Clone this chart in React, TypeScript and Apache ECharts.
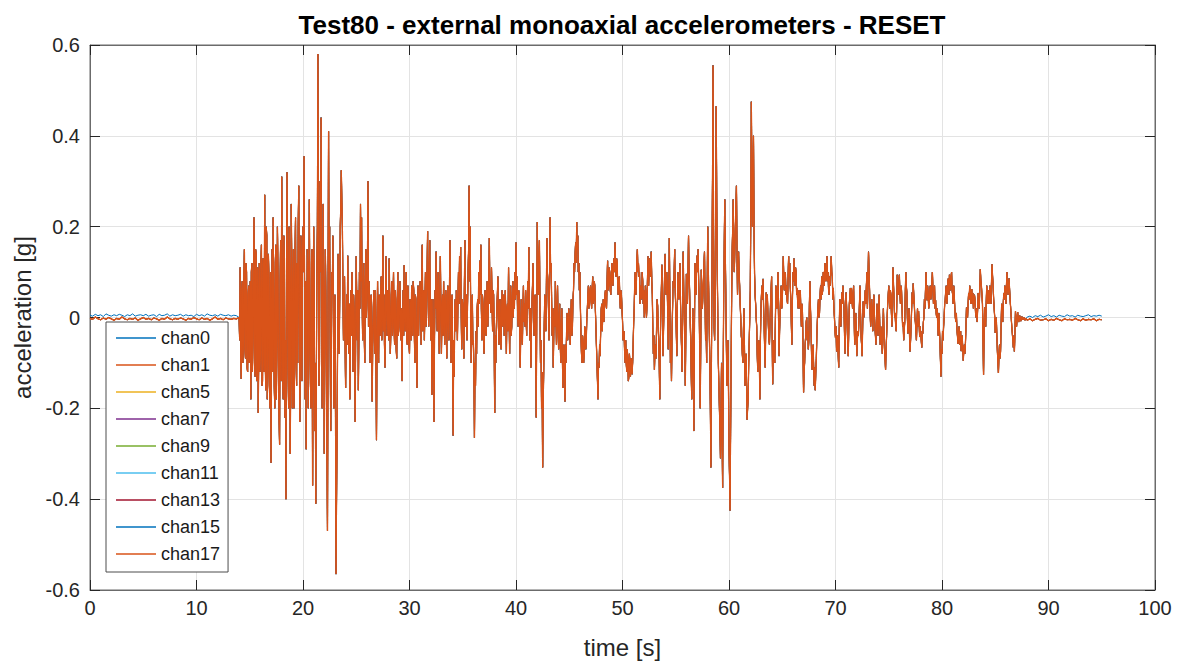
import React, { useEffect, useRef } from "react";
import * as echarts from "echarts";

// ---------- data ----------
const channelNames = ["chan0", "chan1", "chan5", "chan7", "chan9", "chan11", "chan13", "chan15", "chan17"];
const channelColors = ["#0072BD", "#D95319", "#EDB120", "#7E2F8E", "#77AC30", "#4DBEEE", "#A2142F", "#0072BD", "#D95319"];
// drawing order (later = on top): blue chan0 first, the covered channels, then the two orange ones
const drawOrder = [0, 2, 3, 4, 5, 6, 7, 1, 8];

const xTicks = { min: 0, max: 100, interval: 10 };
const yTicks = { min: -0.6, max: 0.6, interval: 0.2 };

// quiet part before the excitation (0 .. 13.75 s, every 0.25 s)
const quietStartOrange = [
  -0.002, -0.004, 0.001, -0.003, -0.005, -0.001, -0.004, 0.0,
  -0.003, -0.006, -0.002, -0.004, 0.001, -0.003, -0.005, -0.002,
  -0.004, -0.001, -0.006, -0.003, 0.0, -0.004, -0.002, -0.005,
  -0.001, -0.003, -0.006, -0.002, -0.004, 0.001, -0.003, -0.005,
  -0.002, -0.004, -0.001, -0.003, -0.006, -0.002, -0.004, 0.0,
  -0.003, -0.005, -0.001, -0.004, -0.002, -0.006, -0.003, 0.001,
  -0.004, -0.002, -0.005, -0.001, -0.003, -0.004, -0.002, -0.003,
];
const quietStartBlue = [
  0.005, 0.003, 0.007, 0.004, 0.006, 0.002, 0.008, 0.005,
  0.003, 0.006, 0.004, 0.007, 0.005, 0.002, 0.006, 0.004,
  0.008, 0.003, 0.005, 0.006, 0.004, 0.007, 0.003, 0.005,
  0.006, 0.002, 0.007, 0.004, 0.005, 0.008, 0.003, 0.006,
  0.004, 0.005, 0.007, 0.003, 0.006, 0.004, 0.005, 0.002,
  0.007, 0.004, 0.006, 0.003, 0.008, 0.005, 0.004, 0.006,
  0.003, 0.007, 0.005, 0.004, 0.006, 0.003, 0.005, 0.004,
];

// strong burst, one row per second starting at 14 s (samples spread evenly within each second)
const burstStart = 14;
const burstRows = [
  [0.0, -0.05, 0.11, -0.08, -0.135, 0.06, 0.08, -0.1, -0.06, 0.09, 0.15, -0.07, -0.09, 0.12, 0.1, -0.11, -0.12, 0.05, 0.07, -0.1],
  [-0.1, 0.08, -0.18, 0.1, 0.12, -0.12, -0.05, 0.09, 0.22, -0.1, -0.13, 0.15, 0.14, -0.14, -0.1, 0.11, -0.21, -0.06, 0.12, -0.12],
  [-0.08, 0.12, 0.16, -0.15, -0.14, 0.13, 0.1, -0.12, 0.27, -0.08, -0.16, 0.2, 0.18, -0.18, -0.12, 0.14, 0.09, -0.15, -0.2, 0.1],
  [-0.32, -0.05, 0.15, -0.12, 0.22, 0.05, -0.15, -0.2, 0.12, 0.16, -0.18, -0.06, 0.2, 0.1, -0.1, -0.22, -0.28, 0.08, 0.17, -0.14],
  [0.31, 0.1, -0.15, -0.18, 0.18, 0.12, -0.22, -0.05, -0.4, 0.1, 0.32, 0.15, -0.12, -0.2, 0.2, 0.08, -0.3, -0.12, 0.25, 0.1],
  [-0.2, -0.08, 0.15, -0.2, -0.12, 0.14, 0.22, -0.1, -0.15, 0.12, -0.1, 0.2, 0.29, 0.05, -0.23, -0.1, 0.18, 0.1, -0.14, 0.12],
  [0.2, 0.1, 0.355, 0.05, -0.18, 0.08, -0.29, -0.05, 0.15, 0.1, -0.2, 0.05, 0.26, -0.05, -0.15, -0.2, 0.12, 0.15, -0.37, -0.1],
  [0.2, 0.05, -0.25, -0.1, -0.41, -0.15, 0.1, 0.2, 0.58, 0.1, -0.15, -0.1, 0.3, 0.1, 0.44, 0.05, -0.2, -0.05, 0.25, 0.0],
  [-0.3, -0.05, 0.15, 0.05, -0.1, -0.3, -0.47, 0.0, 0.41, 0.1, 0.2, -0.05, -0.25, -0.1, 0.1, 0.05, 0.18, 0.02, -0.2, -0.1],
  [0.05, -0.2, -0.565, -0.4, -0.25, -0.05, 0.14, 0.05, -0.08, 0.05, 0.2, 0.25, 0.324, 0.25, 0.2, 0.05, -0.05, 0.02, 0.09, -0.05],
];

// middle part, starting at 24 s
const midStart = 24;
const midRows = [
  [-0.155, -0.04, 0.05, -0.06, 0.136, 0.02, -0.08, 0.03, -0.18, -0.05, 0.06, -0.04, 0.1, 0.04, -0.12, 0.05, 0.02, -0.08, -0.23, -0.02],
  [0.135, 0.03, -0.05, 0.06, -0.16, -0.03, 0.1, 0.02, 0.25, 0.08, 0.22, 0.05, -0.05, 0.04, 0.12, -0.04, -0.1, 0.06, 0.15, 0.0],
  [0.04, 0.12, 0.3, -0.02, 0.08, 0.03, -0.1, 0.04, 0.05, -0.06, -0.185, -0.04, 0.02, 0.06, -0.05, -0.08, 0.06, -0.1, -0.27, -0.05],
  [0.08, -0.02, -0.1, 0.05, 0.03, -0.04, 0.06, 0.09, -0.05, 0.04, 0.18, -0.03, 0.05, -0.06, -0.11, 0.05, 0.135, 0.02, -0.04, 0.06],
  [0.03, -0.05, 0.13, 0.02, -0.08, -0.03, 0.05, 0.08, -0.04, 0.03, 0.1, -0.02, -0.06, 0.06, 0.04, -0.07, -0.09, 0.03, 0.1, -0.04],
  [-0.02, 0.05, 0.08, -0.03, -0.05, 0.02, -0.14, -0.02, 0.06, -0.04, 0.115, 0.03, -0.03, 0.06, 0.1, -0.05, -0.06, 0.07, 0.03, -0.06],
  [-0.08, 0.04, 0.02, -0.05, 0.07, 0.01, -0.04, 0.08, 0.06, -0.03, -0.1, 0.05, 0.04, -0.06, -0.155, -0.02, 0.07, -0.04, 0.02, 0.06],
  [0.08, 0.01, -0.06, 0.07, 0.16, -0.03, 0.02, 0.06, -0.05, 0.03, 0.1, -0.02, 0.05, 0.1, 0.19, 0.04, -0.02, 0.08, 0.17, 0.02],
  [-0.05, 0.04, -0.17, -0.05, 0.04, -0.08, -0.23, -0.04, 0.06, 0.02, 0.145, 0.05, -0.03, 0.05, 0.1, -0.02, -0.08, 0.06, 0.135, 0.01],
  [-0.08, 0.02, 0.05, -0.04, 0.08, 0.02, -0.06, 0.04, 0.06, -0.03, -0.09, 0.05, 0.07, -0.02, -0.05, 0.06, 0.17, 0.03, -0.1, 0.03],
  [0.05, -0.08, -0.26, -0.05, -0.13, 0.02, 0.04, -0.03, 0.06, 0.02, -0.05, 0.04, 0.1, 0.03, 0.135, 0.05, 0.155, 0.02, -0.07, 0.04],
  [0.03, -0.03, -0.09, 0.06, 0.17, -0.02, 0.02, 0.05, -0.05, 0.03, 0.1, 0.15, 0.29, 0.08, 0.2, -0.02, -0.1, -0.03, 0.05, -0.06],
  [-0.05, -0.12, -0.265, -0.1, -0.15, -0.03, -0.08, 0.02, 0.04, -0.02, 0.1, 0.03, 0.125, 0.05, 0.16, 0.02, -0.05, 0.05, 0.03, -0.04],
  [-0.08, 0.01, 0.06, -0.03, -0.04, 0.05, 0.08, -0.02, 0.02, 0.09, 0.175, 0.03, 0.06, 0.01, 0.11, 0.04, -0.03, 0.06, 0.05, -0.05],
  [-0.21, -0.04, -0.1, -0.03, 0.02, 0.05, 0.09, -0.02, -0.06, 0.03, 0.04, -0.04, -0.07, 0.02, 0.06, -0.02, 0.03, 0.05, -0.04, 0.02],
  [0.06, -0.01, -0.08, 0.02, 0.03, -0.03, 0.11, 0.02, -0.08, 0.01, 0.07, -0.04, -0.02, 0.04, 0.08, 0.0, 0.065, 0.02, 0.1, 0.04],
  [0.165, 0.05, 0.09, 0.01, -0.02, 0.06, 0.05, -0.04, -0.11, -0.02, 0.04, -0.03, -0.06, 0.02, 0.07, -0.01, 0.03, -0.02, 0.06, 0.0],
  [-0.04, 0.03, 0.08, 0.02, 0.155, 0.03, -0.05, 0.02, -0.11, -0.02, 0.03, 0.07, 0.12, 0.02, -0.04, 0.03, 0.05, -0.06, -0.22, 0.02],
  [0.21, 0.08, 0.05, 0.12, 0.17, 0.02, -0.1, -0.05, -0.2, -0.12, -0.33, -0.2, -0.12, -0.02, 0.05, 0.0, -0.03, 0.06, 0.175, 0.1],
  [0.08, 0.02, -0.05, 0.08, 0.22, 0.1, 0.12, 0.03, -0.04, 0.02, -0.11, -0.03, 0.02, -0.02, 0.08, 0.0, -0.06, 0.01, 0.07, -0.02],
  [-0.07, -0.01, 0.03, -0.05, -0.1, -0.03, 0.02, -0.08, -0.155, -0.08, -0.06, -0.12, -0.185, -0.06, -0.1, -0.03, 0.01, -0.05, -0.03, 0.02],
  [0.02, -0.03, -0.06, 0.01, 0.04, -0.04, -0.02, 0.04, 0.06, 0.12, 0.1, 0.14, 0.165, 0.12, 0.21, 0.15, 0.18, 0.1, 0.12, 0.06],
  [0.1, 0.02, -0.04, -0.08, -0.1, -0.04, -0.06, -0.1, -0.08, -0.02, -0.03, -0.07, -0.05, 0.0, 0.02, 0.05, 0.07, 0.02, 0.03, 0.06],
  [0.07, 0.04, 0.02, 0.06, 0.09, 0.03, 0.04, 0.08, 0.07, 0.02, -0.02, -0.06, -0.1, -0.14, -0.18, -0.1, -0.11, -0.06, -0.085, -0.03],
  [0.018, 0.03, -0.03, 0.01, 0.04, -0.01, 0.018, 0.05, 0.06, 0.03, 0.02, 0.08, 0.125, 0.06, 0.07, 0.11, 0.1, 0.06, 0.05, 0.09],
  [0.12, 0.08, 0.07, 0.11, 0.13, 0.1, 0.165, 0.11, 0.09, 0.13, 0.12, 0.07, 0.05, 0.08, 0.09, 0.04, 0.02, 0.06, 0.05, 0.02],
];

// late part, starting at 50 s
const tailStart = 50;
const tailRows = [
  [-0.006, -0.05, -0.04, -0.03, -0.08, -0.1, -0.05, -0.1, -0.12, -0.07, -0.09, -0.14, -0.13, -0.08, -0.1, -0.13, -0.09, -0.1, -0.125, -0.1],
  [-0.06, -0.01, 0.02, 0.08, 0.1, 0.05, 0.07, 0.13, 0.15, 0.1, 0.12, 0.09, 0.1, 0.03, 0.06, 0.07, 0.04, 0.1, 0.08, 0.03],
  [0.06, 0.0, 0.02, 0.07, 0.05, 0.0, 0.026, 0.09, 0.135, 0.07, 0.1, 0.13, 0.12, 0.09, 0.145, 0.08, 0.05, -0.03, -0.08, -0.04],
  [-0.115, -0.07, -0.06, -0.09, -0.02, 0.04, 0.026, -0.02, -0.05, -0.1, -0.18, -0.06, 0.02, 0.06, 0.116, 0.02, -0.085, -0.03, 0.03, 0.09],
  [0.14, 0.08, 0.05, 0.1, 0.07, 0.0, -0.07, 0.06, 0.175, 0.03, -0.1, -0.05, -0.14, -0.04, 0.02, 0.08, 0.065, 0.1, 0.15, 0.06],
  [0.02, -0.03, -0.085, 0.02, 0.1, 0.06, 0.04, 0.08, 0.12, 0.03, -0.03, -0.07, -0.12, 0.03, 0.145, 0.06, 0.01, -0.06, -0.15, -0.02],
  [0.096, 0.05, 0.03, 0.1, 0.18, 0.1, 0.06, 0.0, -0.05, -0.12, -0.18, -0.06, 0.02, -0.1, -0.25, -0.05, 0.12, 0.08, 0.05, 0.1],
  [0.136, 0.1, 0.15, 0.08, 0.03, -0.08, -0.2, -0.05, 0.105, 0.06, 0.02, 0.05, 0.08, 0.12, 0.145, 0.04, -0.05, -0.02, -0.1, 0.05],
  [0.2, 0.12, 0.05, -0.03, -0.1, -0.2, -0.33, -0.1, 0.1, 0.3, 0.555, 0.2, -0.02, -0.05, 0.05, 0.2, 0.465, 0.25, 0.1, 0.0],
  [-0.1, -0.15, -0.2, -0.25, -0.31, -0.2, -0.1, -0.25, -0.375, -0.15, 0.05, 0.15, 0.26, 0.15, 0.05, -0.05, -0.15, -0.1, -0.05, -0.15],
  [-0.29, -0.35, -0.425, -0.25, -0.1, 0.05, 0.15, 0.2, 0.26, 0.15, 0.1, 0.15, 0.2, 0.25, 0.29, 0.15, 0.05, 0.1, 0.145, 0.1],
  [0.07, 0.03, 0.0, -0.04, -0.05, -0.08, -0.1, -0.03, 0.02, -0.06, -0.15, -0.1, -0.08, -0.15, -0.225, -0.2, -0.18, -0.1, -0.05, 0.0],
  [0.06, 0.25, 0.475, 0.3, 0.2, 0.3, 0.4, 0.2, 0.096, 0.05, 0.03, 0.0, -0.02, -0.08, -0.12, -0.06, -0.05, -0.1, -0.18, -0.05],
  [0.02, 0.05, 0.07, 0.04, 0.085, 0.02, -0.02, -0.07, -0.11, -0.02, 0.055, 0.02, 0.05, 0.01, -0.02, -0.05, -0.06, -0.01, 0.03, 0.06],
  [0.09, -0.03, -0.147, -0.08, -0.05, -0.09, -0.1, -0.02, 0.07, 0.04, 0.02, 0.06, 0.1, 0.0, -0.085, -0.03, 0.01, 0.05, 0.07, 0.02],
  [0.03, 0.09, 0.135, 0.08, 0.06, 0.1, 0.096, 0.05, 0.07, 0.04, 0.03, 0.09, 0.135, 0.09, 0.12, 0.07, 0.04, -0.01, -0.06, 0.03],
  [0.1, 0.08, 0.13, 0.09, 0.07, 0.11, 0.1, 0.05, 0.065, 0.03, 0.02, 0.06, 0.05, 0.02, 0.06, 0.01, -0.02, 0.03, 0.01, -0.07],
  [-0.165, -0.12, -0.1, -0.06, -0.04, -0.01, 0.0, -0.05, -0.03, -0.07, -0.05, 0.03, 0.08, 0.02, -0.02, -0.08, -0.115, -0.07, -0.06, -0.11],
  [-0.15, -0.11, -0.16, -0.12, -0.09, -0.04, -0.005, 0.02, 0.04, 0.0, 0.01, 0.05, 0.07, 0.04, 0.09, 0.05, 0.06, 0.1, 0.097, 0.07],
  [0.12, 0.09, 0.08, 0.11, 0.135, 0.08, 0.1, 0.06, 0.05, 0.09, 0.07, 0.11, 0.135, 0.1, 0.09, 0.04, 0.065, 0.02, 0.0, -0.03],
  [-0.045, -0.02, -0.075, -0.05, -0.04, -0.08, -0.11, -0.03, 0.04, 0.01, -0.02, 0.03, 0.055, 0.03, 0.07, 0.04, 0.02, -0.04, -0.08, 0.0],
  [0.055, 0.02, -0.02, -0.06, -0.085, -0.02, 0.03, 0.05, 0.065, 0.03, 0.065, 0.04, 0.02, 0.05, 0.07, 0.0, -0.06, -0.02, 0.01, -0.04],
  [-0.085, -0.05, -0.03, -0.04, -0.005, 0.03, 0.07, 0.01, -0.04, -0.06, -0.085, -0.02, 0.035, 0.0, 0.01, 0.04, 0.06, 0.03, 0.07, 0.1],
  [0.02, 0.08, 0.145, 0.1, 0.06, 0.01, -0.02, 0.02, 0.04, 0.0, -0.03, 0.02, 0.05, 0.01, -0.02, -0.04, -0.06, -0.01, 0.03, -0.01],
  [-0.04, 0.01, 0.05, -0.01, -0.06, -0.02, -0.03, -0.06, -0.08, -0.02, 0.02, -0.03, -0.07, -0.09, -0.115, -0.07, -0.04, 0.0, 0.03, 0.05],
  [0.07, 0.04, 0.02, 0.06, 0.05, 0.01, -0.02, 0.05, 0.11, 0.07, 0.04, 0.0, 0.01, -0.02, -0.03, 0.03, 0.094, 0.06, 0.05, 0.08],
  [0.094, 0.05, 0.03, 0.07, 0.06, 0.02, -0.02, -0.01, -0.05, -0.03, -0.01, 0.05, 0.1, 0.07, 0.055, 0.0, -0.035, -0.01, 0.02, -0.04],
  [-0.075, -0.05, -0.02, 0.02, 0.055, 0.03, 0.075, 0.05, 0.03, 0.0, -0.01, -0.03, -0.05, -0.01, 0.02, -0.02, 0.014, -0.01, -0.043, -0.02],
  [-0.02, -0.05, -0.066, -0.03, -0.035, -0.01, 0.0, 0.04, 0.02, 0.06, 0.1, 0.06, 0.038, 0.07, 0.054, 0.02, 0.03, 0.06, 0.07, 0.04],
  [0.05, 0.08, 0.1, 0.06, 0.03, 0.05, 0.07, 0.02, 0.038, 0.01, 0.0, 0.02, -0.018, -0.04, 0.01, -0.02, -0.05, -0.09, -0.13, -0.07],
  [-0.08, -0.03, -0.05, -0.02, 0.0, 0.03, 0.038, 0.06, 0.07, 0.03, 0.05, 0.08, 0.086, 0.05, 0.094, 0.07, 0.06, 0.09, 0.1, 0.06],
  [0.05, 0.03, 0.07, 0.05, 0.022, 0.0, -0.01, 0.01, -0.026, -0.04, -0.058, -0.03, -0.02, -0.06, -0.05, -0.03, -0.074, -0.05, -0.04, -0.07],
  [-0.095, -0.07, -0.06, -0.08, -0.058, -0.02, 0.022, 0.01, 0.0, 0.03, 0.054, 0.04, 0.07, 0.05, 0.03, 0.06, 0.062, 0.03, 0.054, 0.02],
  [0.02, 0.05, 0.038, 0.01, 0.0, 0.02, -0.01, 0.02, 0.054, 0.04, 0.02, 0.07, 0.106, 0.08, 0.07, 0.05, 0.03, -0.05, -0.126, -0.04],
  [0.022, 0.01, -0.02, 0.03, 0.07, 0.05, 0.03, 0.06, 0.046, 0.03, 0.07, 0.05, 0.03, 0.08, 0.117, 0.09, 0.07, 0.04, 0.02, 0.0],
  [-0.034, -0.02, 0.0, -0.04, -0.074, -0.1, -0.122, -0.08, -0.06, -0.09, -0.074, -0.02, 0.03, 0.01, -0.01, 0.03, 0.054, 0.04, 0.07, 0.05],
  [0.03, 0.07, 0.1, 0.07, 0.05, 0.07, 0.086, 0.06, 0.038, 0.02, 0.0, -0.02, -0.034, -0.05, -0.066, -0.04, -0.075, -0.03, 0.014, -0.01],
  [-0.02, 0.012, -0.01, 0.004, -0.008, 0.002, -0.005, 0.0, -0.006, -0.002],
];

// quiet part after the excitation (88 .. 95 s, every 0.25 s)
const quietEndStart = 88;
const quietEndOrange = [
  -0.006, -0.003, -0.007, -0.004, -0.002, -0.006, -0.005, -0.003,
  -0.007, -0.004, -0.006, -0.002, -0.005, -0.007, -0.003, -0.005,
  -0.004, -0.006, -0.002, -0.005, -0.007, -0.003, -0.006, -0.004,
  -0.005, -0.003, -0.007, -0.004, -0.005,
];
const quietEndBlue = [
  0.001, 0.003, 0.0, 0.004, 0.002, 0.005, 0.001, 0.003,
  0.006, 0.002, 0.004, 0.001, 0.005, 0.003, 0.002, 0.006,
  0.003, 0.004, 0.001, 0.005, 0.003, 0.002, 0.004, 0.006,
  0.002, 0.004, 0.003, 0.005, 0.003,
];

// ---------- build series points ----------
function rowsToPoints(start: number, rows: number[][]): number[][] {
  const out: number[][] = [];
  rows.forEach((row, r) => {
    row.forEach((v, j) => {
      out.push([Math.round((start + r + j / row.length) * 1000) / 1000, v]);
    });
  });
  return out;
}
function evenPoints(start: number, step: number, vals: number[]): number[][] {
  return vals.map((v, i) => [Math.round((start + i * step) * 1000) / 1000, v]);
}

const activePoints = [
  ...rowsToPoints(burstStart, burstRows),
  ...rowsToPoints(midStart, midRows),
  ...rowsToPoints(tailStart, tailRows),
];
const orangeTrace = [
  ...evenPoints(0, 0.25, quietStartOrange),
  ...activePoints,
  ...evenPoints(quietEndStart, 0.25, quietEndOrange),
];
const blueTrace = [
  ...evenPoints(0, 0.25, quietStartBlue),
  ...activePoints,
  ...evenPoints(quietEndStart, 0.25, quietEndBlue),
];

const FONT = '"Liberation Sans", Arial, Helvetica, sans-serif';
const AXIS_COLOR = "#262626";

export default function App() {
  const ref = useRef<HTMLDivElement>(null);

  useEffect(() => {
    document.body.style.margin = "0";
    if (!ref.current) return;
    const chart = echarts.init(ref.current, null, { renderer: "svg" });

    const yFmt = (v: number) => {
      const r = Math.round(v * 10) / 10;
      return r === 0 ? "0" : String(r);
    };

    const series = drawOrder.map((i, k) => {
      const isOrange = i === 1 || i === 8;
      const width = i === 0 ? 1 : isOrange ? 1.2 : 0.6;
      return {
        name: channelNames[i],
        type: "line",
        data: (i === 0 ? blueTrace : orangeTrace).map((p) => p.slice()),
        showSymbol: false,
        symbol: "none",
        color: channelColors[i],
        lineStyle: { width, color: channelColors[i] },
        itemStyle: { color: channelColors[i] },
        emphasis: { disabled: true },
        silent: true,
        z: 2 + k,
      };
    });

    chart.setOption({
      animation: false,
      backgroundColor: "#ffffff",
      textStyle: { fontFamily: FONT },
      grid: {
        left: 90,
        right: 24,
        top: 45,
        bottom: 74,
        show: true,
        borderColor: "#6b6b6b",
        borderWidth: 1,
        backgroundColor: "transparent",
      },
      graphic: [
        {
          type: "text",
          x: 622,
          y: 12,
          style: {
            text: "Test80 - external monoaxial accelerometers - RESET",
            font: `bold 26px ${FONT}`,
            fill: "#000000",
            textAlign: "center",
            textVerticalAlign: "top",
          },
        },
      ],
      legend: {
        orient: "vertical",
        left: 106,
        top: 322,
        data: channelNames.map((n) => ({ name: n, icon: "rect" })),
        itemWidth: 40,
        itemHeight: 1.5,
        itemGap: 7,
        padding: [6, 8, 8, 10],
        backgroundColor: "#ffffff",
        borderColor: "#4d4d4d",
        borderWidth: 1,
        borderRadius: 0,
        selectedMode: false,
        textStyle: { fontSize: 18, color: "#1a1a1a", fontFamily: FONT, lineHeight: 20 },
        z: 20,
      },
      xAxis: [
        {
          type: "value",
          min: xTicks.min,
          max: xTicks.max,
          interval: xTicks.interval,
          name: "time [s]",
          nameLocation: "middle",
          nameGap: 45,
          nameTextStyle: { fontSize: 24, color: AXIS_COLOR, fontFamily: FONT },
          axisLine: { show: true, onZero: false, lineStyle: { color: "#6b6b6b", width: 1 } },
          axisTick: { show: true, inside: true, length: 10, lineStyle: { color: AXIS_COLOR } },
          axisLabel: { fontSize: 20, color: AXIS_COLOR, margin: 8, fontFamily: FONT },
          splitLine: { show: true, lineStyle: { color: "#e3e3e3", width: 1 } },
        },
        {
          type: "value",
          position: "top",
          min: xTicks.min,
          max: xTicks.max,
          interval: xTicks.interval,
          axisLine: { show: true, onZero: false, lineStyle: { color: "#6b6b6b", width: 1 } },
          axisTick: { show: true, inside: true, length: 10, lineStyle: { color: AXIS_COLOR } },
          axisLabel: { show: false },
          splitLine: { show: false },
        },
      ],
      yAxis: [
        {
          type: "value",
          min: yTicks.min,
          max: yTicks.max,
          interval: yTicks.interval,
          name: "acceleration [g]",
          nameLocation: "middle",
          nameGap: 56,
          nameTextStyle: { fontSize: 24, color: AXIS_COLOR, fontFamily: FONT },
          axisLine: { show: true, onZero: false, lineStyle: { color: "#6b6b6b", width: 1 } },
          axisTick: { show: true, inside: true, length: 10, lineStyle: { color: AXIS_COLOR } },
          axisLabel: { fontSize: 20, color: AXIS_COLOR, margin: 10, formatter: yFmt, fontFamily: FONT },
          splitLine: { show: true, lineStyle: { color: "#e3e3e3", width: 1 } },
        },
        {
          type: "value",
          position: "right",
          min: yTicks.min,
          max: yTicks.max,
          interval: yTicks.interval,
          axisLine: { show: true, onZero: false, lineStyle: { color: "#6b6b6b", width: 1 } },
          axisTick: { show: true, inside: true, length: 10, lineStyle: { color: AXIS_COLOR } },
          axisLabel: { show: false },
          splitLine: { show: false },
        },
      ],
      series,
    });

    return () => {
      chart.dispose();
    };
  }, []);

  return (
    <div
      ref={ref}
      style={{ position: "fixed", left: 0, top: 0, width: 1179, height: 664, background: "#fff" }}
    />
  );
}
